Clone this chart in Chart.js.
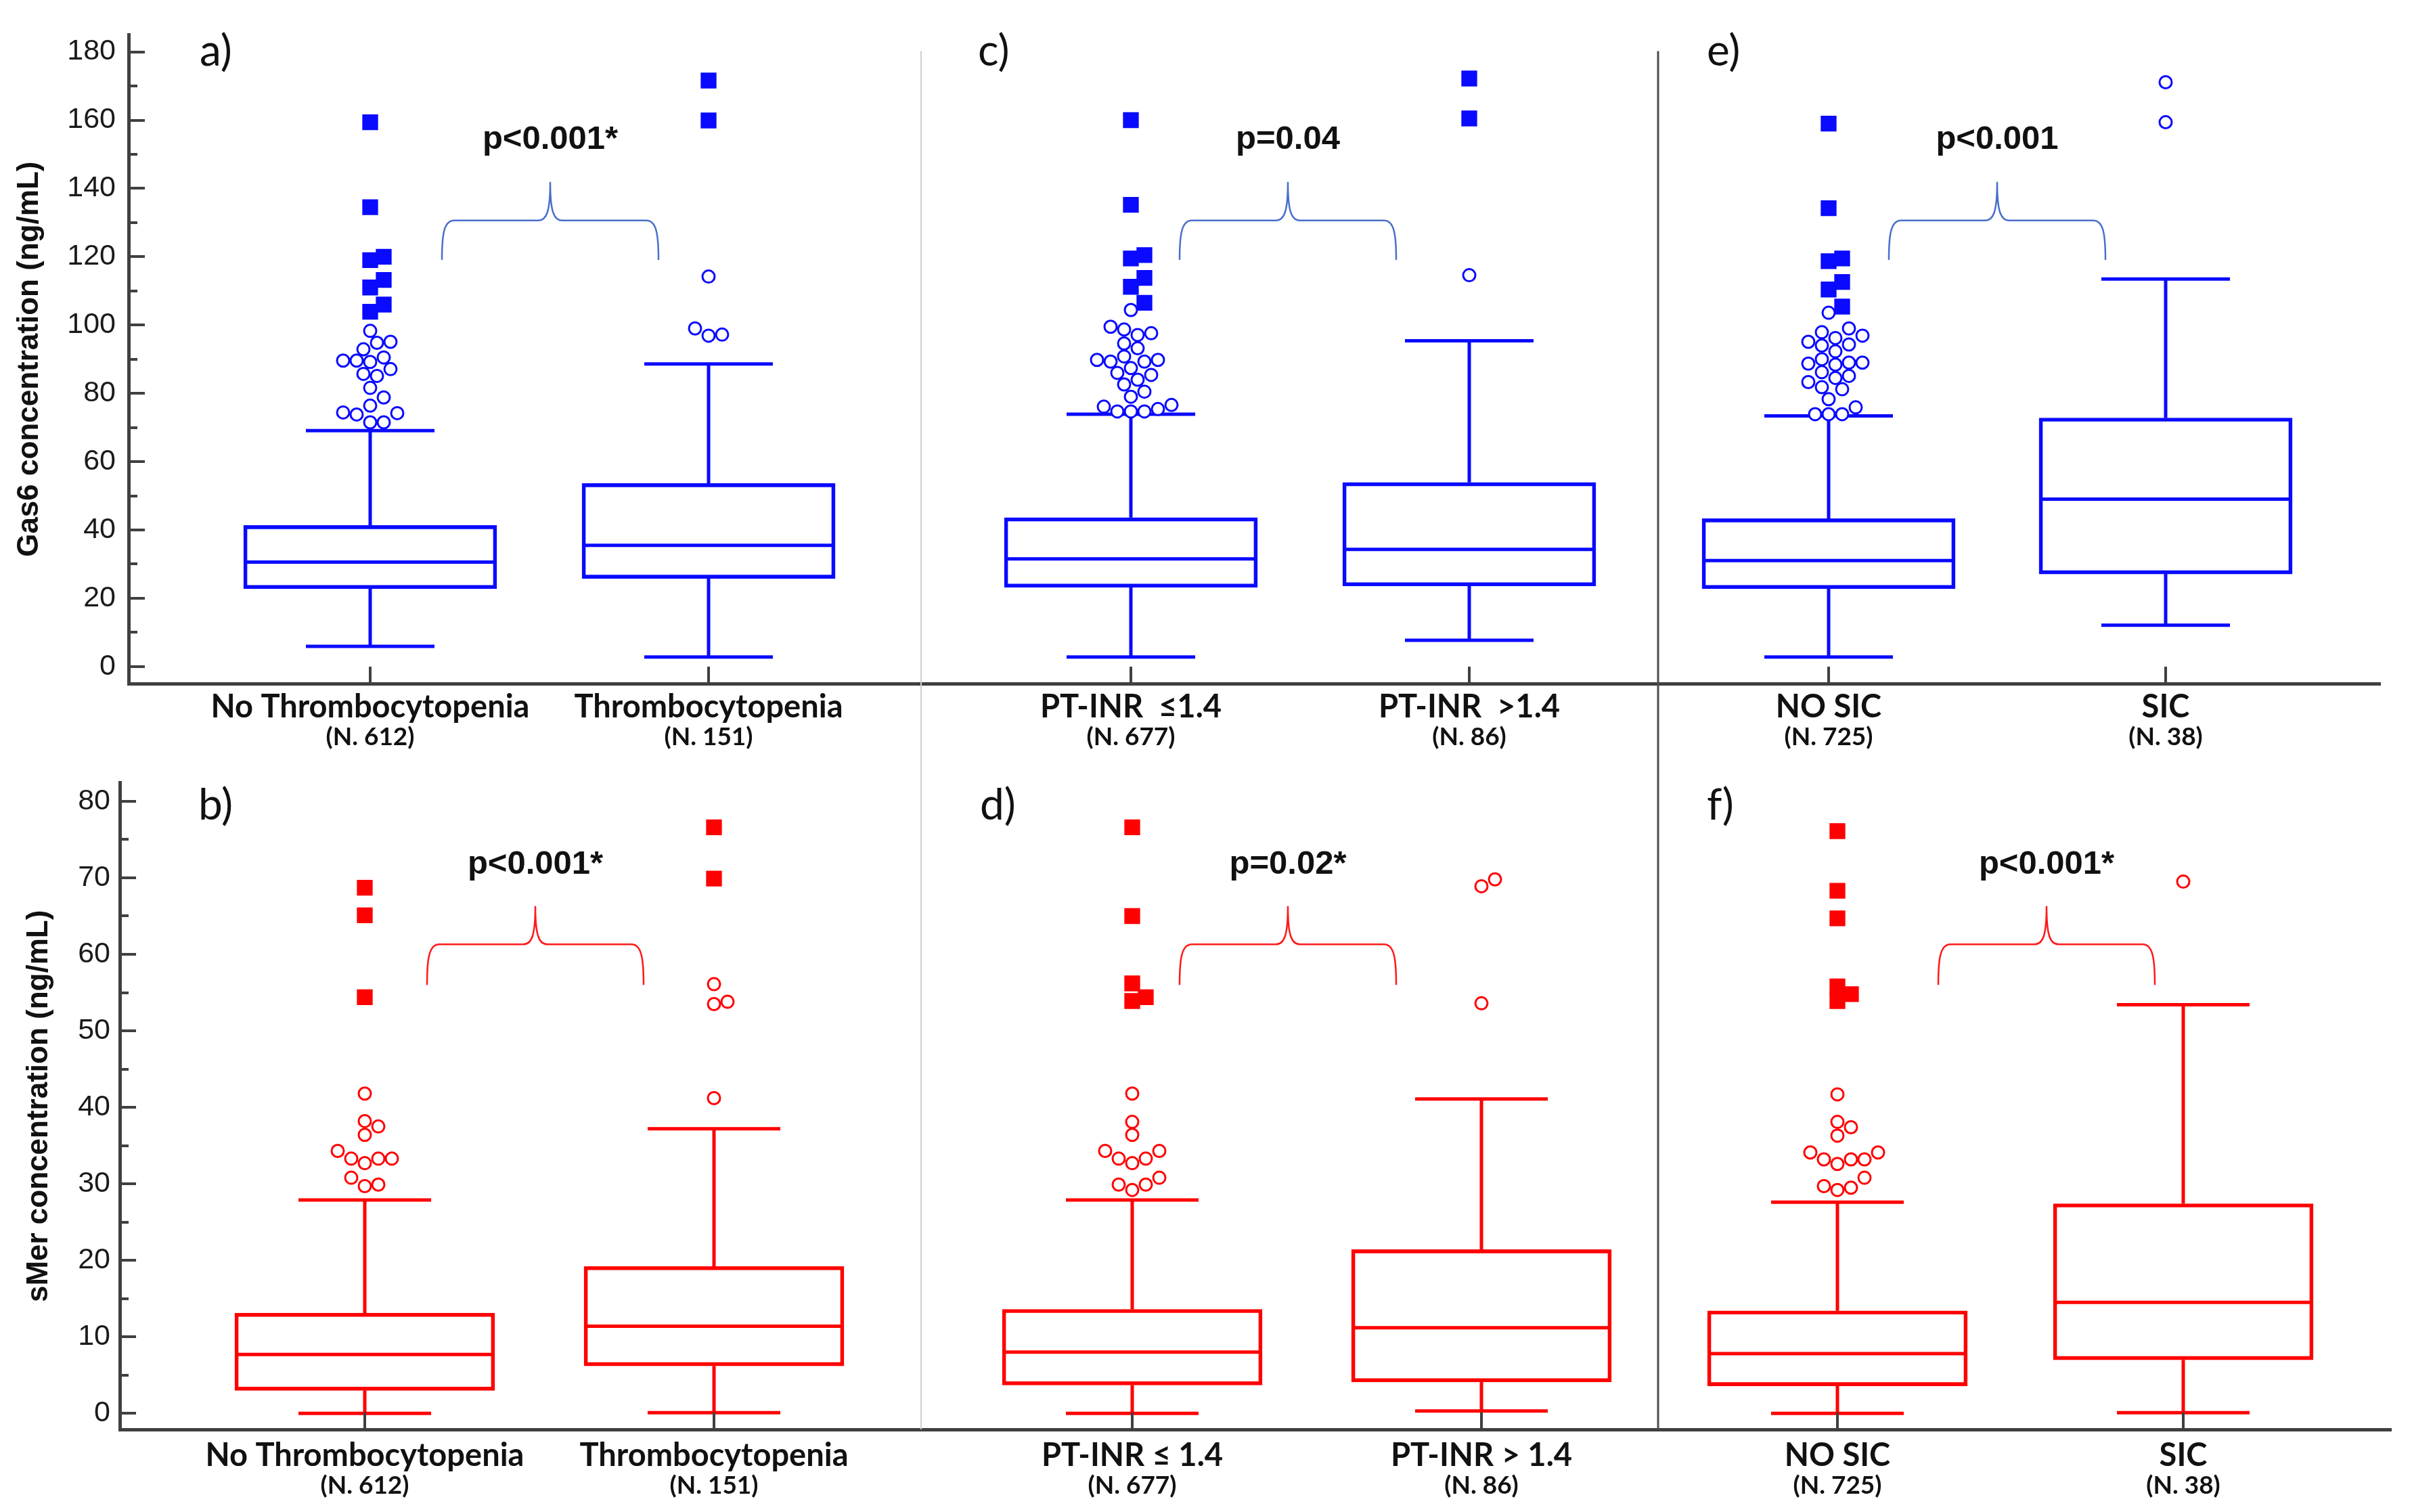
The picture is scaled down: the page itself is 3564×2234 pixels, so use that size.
<!DOCTYPE html>
<html><head><meta charset="utf-8">
<script src="https://cdn.jsdelivr.net/npm/chart.js@4.4.1/dist/chart.umd.min.js"></script>
<style>
html,body{margin:0;padding:0;background:#fff;width:3564px;height:2234px;overflow:hidden}
canvas{position:absolute;left:0}
</style></head>
<body>
<canvas id="topChart" width="3564" height="1117" style="top:0"></canvas>
<canvas id="bottomChart" width="3564" height="1117" style="top:1117px"></canvas>
<script>
// ---------------- DATA ----------------
const topCategories = ['No Thrombocytopenia', 'Thrombocytopenia', 'PT-INR  \u22641.4', 'PT-INR  >1.4', 'NO SIC', 'SIC'];
const bottomCategories = ['No Thrombocytopenia', 'Thrombocytopenia', 'PT-INR \u2264 1.4', 'PT-INR > 1.4', 'NO SIC', 'SIC'];
const groupN = ['(N. 612)', '(N. 151)', '(N. 677)', '(N. 86)', '(N. 725)', '(N. 38)'];

const gas6Title = 'Gas6 concentration (ng/mL)';
const gas6Ticks = [0, 20, 40, 60, 80, 100, 120, 140, 160, 180];
const gas6Low    = [5.9, 2.8, 2.8, 7.7, 2.8, 12.1];
const gas6Q1     = [22.8, 25.8, 23.2, 23.6, 22.8, 27.1];
const gas6Median = [30.6, 35.5, 31.5, 34.3, 31.0, 49.0];
const gas6Q3     = [41.3, 53.6, 43.6, 53.9, 43.3, 72.8];
const gas6High   = [69.1, 88.6, 73.9, 95.4, 73.4, 113.5];
const gas6Far = [
  [159.4, 134.5, 120.0, 119.0, 113.2, 111.0, 106.0, 103.9],
  [171.6, 159.9],
  [160.0, 135.2, 120.5, 119.5, 113.8, 111.2, 106.5],
  [172.2, 160.5],
  [159.0, 134.2, 119.5, 118.7, 112.6, 110.4, 105.4],
  []
];
const gas6Near = [
  [98.3, 95.1, 94.8, 92.9, 90.5, 89.6, 89.6, 89.2, 87.1, 85.7, 85.1, 81.6, 78.8, 76.4, 74.4, 74.2, 73.8, 71.5, 71.5],
  [114.2, 99.0, 97.2, 96.9],
  [104.4, 99.5, 98.7, 97.6, 97.1, 94.6, 93.2, 90.8, 89.8, 89.8, 89.3, 89.3, 87.4, 86.0, 85.4, 84.0, 82.6, 80.5, 79.0, 76.6, 76.1, 75.4, 74.7, 74.7, 74.7],
  [114.6],
  [103.6, 99.0, 97.9, 96.9, 96.2, 95.1, 94.3, 94.0, 92.3, 90.0, 89.0, 89.0, 88.7, 88.4, 86.2, 85.1, 84.5, 83.3, 81.8, 81.2, 78.3, 75.9, 73.9, 73.9, 73.9],
  [171.1, 159.4]
];
const gas6Letters = ['a)', 'c)', 'e)'];
const gas6P = ['p<0.001*', 'p=0.04', 'p<0.001'];

const smerTitle = 'sMer concentration (ng/mL)';
const smerTicks = [0, 10, 20, 30, 40, 50, 60, 70, 80];
const smerLow    = [0.0, 0.1, 0.0, 0.3, 0.0, 0.1];
const smerQ1     = [3.0, 6.2, 3.7, 4.1, 3.6, 7.0];
const smerMedian = [7.7, 11.4, 8.0, 11.2, 7.8, 14.5];
const smerQ3     = [13.1, 19.2, 13.6, 21.4, 13.4, 27.4];
const smerHigh   = [27.9, 37.2, 27.9, 41.1, 27.6, 53.4];
const smerFar = [
  [68.7, 65.1, 54.4],
  [76.6, 69.9],
  [76.6, 65.0, 56.2, 54.4, 53.9],
  [],
  [76.1, 68.3, 64.7, 55.8, 54.8, 53.9],
  []
];
const smerNear = [
  [41.8, 38.2, 37.5, 36.4, 34.3, 33.3, 33.3, 33.3, 32.7, 30.8, 29.9, 29.7],
  [56.1, 53.8, 53.5, 41.2],
  [41.8, 38.1, 36.4, 34.3, 34.3, 33.3, 33.3, 32.7, 30.8, 29.9, 29.9, 29.2],
  [69.8, 68.9, 53.6],
  [41.7, 38.1, 37.4, 36.3, 34.1, 34.1, 33.2, 33.2, 33.2, 32.6, 30.8, 29.7, 29.5, 29.2],
  [69.5]
];
const smerLetters = ['b)', 'd)', 'f)'];
const smerP = ['p<0.001*', 'p=0.02*', 'p<0.001*'];

// ---------------- LAYOUT (positions / sizes / styles) ----------------
const FONT_TICK = "'Liberation Sans', Arial, sans-serif";
const FONT_CAT = "Lato, 'Open Sans', sans-serif";
const FONT_P = "'Liberation Sans', Arial, sans-serif";

const LAYOUT_TOP = {
  height: 1117, padTop: 51.4, padRight: 47, yWidth: 190, xH: 107,
  yMin: -5, yMax: 185, xMax: 33.27, minorStep: 10, majorStep: 20,
  pos: [3.57, 8.57, 14.81, 19.81, 25.12, 30.10], sep: [11.71, 22.60], sepTop: 180.2,
  boxHalf: 1.87, capHalf: 0.95, color: '#0a0aff', braceColor: '#4a6fcb',
  yTitlePad: 17, yTickPad: 19, xPad: 7, nY: 79,
  braceX: [6.23, 17.13, 27.61], braceHalf: 1.6, braceLow: 119.1, braceMid: 130.6, braceTip: 141.9,
  pY: 154.2, letterX: [1.05, 12.55, 23.32], letterY: 180
};
const LAYOUT_BOTTOM = {
  height: 1117, padTop: 35.6, padRight: 31, yWidth: 177, xH: 122,
  yMin: -2.1, yMax: 82.4, xMax: 33.56, minorStep: 5, majorStep: 10,
  pos: [3.62, 8.78, 14.96, 20.12, 25.38, 30.49], sep: [11.84, 22.73], sepTop: null,
  boxHalf: 1.92, capHalf: 0.98, color: '#ff0000', braceColor: '#ff1a1a',
  yTitlePad: 31.6, yTickPad: 14, xPad: 11, nY: 83,
  braceX: [6.14, 17.26, 28.47], braceHalf: 1.6, braceLow: 56.0, braceMid: 61.3, braceTip: 66.3,
  pY: 71.7, letterX: [1.16, 12.71, 23.45], letterY: 79.4
};

function drawBrace(ctx, Lx, Rx, Cx, yT, yB, yP) {
  ctx.beginPath();
  ctx.moveTo(Lx, yB);
  ctx.bezierCurveTo(Lx, yT + (yB - yT) * 0.35, Lx + 3, yT, Lx + 18, yT);
  ctx.lineTo(Cx - 18, yT);
  ctx.bezierCurveTo(Cx - 5, yT, Cx, yT - 14, Cx, yP);
  ctx.bezierCurveTo(Cx, yT - 14, Cx + 5, yT, Cx + 18, yT);
  ctx.lineTo(Rx - 18, yT);
  ctx.bezierCurveTo(Rx - 3, yT, Rx, yT + (yB - yT) * 0.35, Rx, yB);
  ctx.stroke();
}

function makeChart(id, d, L) {
  const xppu = 100;
  const plotH = L.height - L.padTop - L.xH;
  const yppu = plotH / (L.yMax - L.yMin);
  // simple beeswarm for outliers, derived from the values
  const farPts = [], nearPts = [];
  const step = 10, minDist = 19;
  L.pos.forEach((p, i) => {
    const pts = d.far[i].map(v => ({v, t: 'f'})).concat(d.near[i].map(v => ({v, t: 'n'})));
    pts.sort((a, b) => a.v - b.v);
    const placed = [];
    pts.forEach(pt => {
      const py = pt.v * yppu;
      let off = 0;
      for (let s = 0; s < 60; s++) {
        const k = s === 0 ? 0 : (s % 2 ? (s + 1) / 2 : -s / 2);
        const px = k * step;
        if (placed.every(q => (q.x - px) ** 2 + (q.y - py) ** 2 >= minDist * minDist)) { off = px; break; }
      }
      placed.push({x: off, y: py});
      (pt.t === 'f' ? farPts : nearPts).push({x: p + off / xppu, y: pt.v});
    });
  });

  const extras = {
    id: 'extras' + id,
    beforeDatasetsDraw(chart) {
      const ctx = chart.ctx, x = chart.scales.x, y = chart.scales.y;
      ctx.save();
      ctx.strokeStyle = L.color; ctx.lineWidth = 5; ctx.lineCap = 'butt';
      L.pos.forEach((p, i) => {
        const cx = x.getPixelForValue(p);
        const bl = x.getPixelForValue(p - L.boxHalf), br = x.getPixelForValue(p + L.boxHalf);
        const cl = x.getPixelForValue(p - L.capHalf), cr = x.getPixelForValue(p + L.capHalf);
        const yl = y.getPixelForValue(d.low[i]), y1 = y.getPixelForValue(d.q1[i]);
        const ym = y.getPixelForValue(d.median[i]), y3 = y.getPixelForValue(d.q3[i]);
        const yh = y.getPixelForValue(d.high[i]);
        ctx.beginPath();
        ctx.moveTo(bl, ym); ctx.lineTo(br, ym);
        ctx.moveTo(cx, y3); ctx.lineTo(cx, yh);
        ctx.moveTo(cx, y1); ctx.lineTo(cx, yl);
        ctx.moveTo(cl, yh); ctx.lineTo(cr, yh);
        ctx.moveTo(cl, yl); ctx.lineTo(cr, yl);
        ctx.stroke();
      });
      ctx.restore();
    },
    afterDraw(chart) {
      const ctx = chart.ctx, x = chart.scales.x, y = chart.scales.y, area = chart.chartArea;
      ctx.save();
      // separators
      L.sep.forEach((s, j) => {
        const sx = x.getPixelForValue(s);
        ctx.strokeStyle = j === 0 ? '#cfcfcf' : '#4d4d4d';
        ctx.lineWidth = j === 0 ? 2 : 3;
        ctx.beginPath();
        if (L.sepTop !== null) { ctx.moveTo(sx, y.getPixelForValue(L.sepTop)); ctx.lineTo(sx, chart.height); }
        else { ctx.moveTo(sx, 0); ctx.lineTo(sx, area.bottom); }
        ctx.stroke();
      });
      // inward tick marks on y axis
      ctx.strokeStyle = '#404040'; ctx.lineWidth = 4;
      ctx.beginPath();
      for (let v = 0; v <= L.yMax; v += L.minorStep) {
        const py = Math.round(y.getPixelForValue(v));
        const len = (v % L.majorStep === 0) ? 24 : 13;
        ctx.moveTo(area.left, py); ctx.lineTo(area.left + len, py);
      }
      // inward tick marks on x axis
      L.pos.forEach(p => {
        const px = x.getPixelForValue(p);
        ctx.moveTo(px, area.bottom); ctx.lineTo(px, area.bottom - 25);
      });
      ctx.stroke();
      // group sizes under the category labels
      ctx.fillStyle = '#111'; ctx.textAlign = 'center'; ctx.textBaseline = 'middle';
      ctx.font = "bold 37px " + FONT_CAT;
      groupN.forEach((t, i) => ctx.fillText(t, x.getPixelForValue(L.pos[i]), area.bottom + L.nY));
      // braces
      ctx.strokeStyle = L.braceColor; ctx.lineWidth = 2.5;
      L.braceX.forEach(bx => {
        drawBrace(ctx, x.getPixelForValue(bx - L.braceHalf), x.getPixelForValue(bx + L.braceHalf), x.getPixelForValue(bx),
          y.getPixelForValue(L.braceMid), y.getPixelForValue(L.braceLow), y.getPixelForValue(L.braceTip));
      });
      // p values
      ctx.font = "bold 49px " + FONT_P;
      d.p.forEach((t, j) => ctx.fillText(t, x.getPixelForValue(L.braceX[j]), y.getPixelForValue(L.pY)));
      // panel letters
      ctx.textAlign = 'left'; ctx.font = "64px " + FONT_CAT;
      d.letters.forEach((t, j) => ctx.fillText(t, x.getPixelForValue(L.letterX[j]), y.getPixelForValue(L.letterY)));
      ctx.restore();
    }
  };

  return new Chart(document.getElementById(id), {
    type: 'bar',
    data: {
      datasets: [
        {
          type: 'bar', data: L.pos.map((p, i) => ({x: p, y: [d.q1[i], d.q3[i]]})),
          backgroundColor: 'rgba(255,255,255,0)', borderColor: L.color, borderWidth: 5,
          borderSkipped: false, barThickness: L.boxHalf * 2 * xppu, order: 3
        },
        {
          type: 'scatter', data: farPts, pointStyle: 'rect', pointRadius: 16.5,
          backgroundColor: L.color, borderWidth: 0, order: 1
        },
        {
          type: 'scatter', data: nearPts, pointStyle: 'circle', pointRadius: 9,
          backgroundColor: '#ffffff', borderColor: L.color, borderWidth: 3, order: 2
        }
      ]
    },
    options: {
      responsive: false, animation: false, devicePixelRatio: 1,
      layout: {padding: {left: 0, right: L.padRight, top: L.padTop, bottom: 0}},
      plugins: {legend: {display: false}, tooltip: {enabled: false}},
      scales: {
        x: {
          type: 'linear', min: 0, max: L.xMax, position: 'bottom', offset: false,
          grid: {display: false, drawTicks: false, offset: false},
          border: {display: true, color: '#404040', width: 5},
          afterBuildTicks: s => { s.ticks = L.pos.map(v => ({value: v})); },
          afterFit: s => { s.height = L.xH; },
          ticks: {autoSkip: false, maxRotation: 0, minRotation: 0, padding: L.xPad, color: '#111',
            font: {family: FONT_CAT, size: 47, weight: 'bold'}, callback: (v, i) => d.categories[i]}
        },
        y: {
          type: 'linear', min: L.yMin, max: L.yMax,
          grid: {display: false, drawTicks: false},
          border: {display: true, color: '#404040', width: 5},
          afterBuildTicks: s => { s.ticks = d.ticks.map(v => ({value: v})); },
          afterFit: s => { s.width = L.yWidth; },
          ticks: {padding: L.yTickPad, color: '#1a1a1a', font: {family: FONT_TICK, size: 43}},
          title: {display: true, text: d.title, color: '#111', padding: {top: L.yTitlePad, bottom: 0},
            font: {family: FONT_P, size: 44, weight: 'bold'}}
        }
      }
    },
    plugins: [extras]
  });
}

makeChart('topChart', {
  categories: topCategories, title: gas6Title, ticks: gas6Ticks,
  low: gas6Low, q1: gas6Q1, median: gas6Median, q3: gas6Q3, high: gas6High,
  far: gas6Far, near: gas6Near, letters: gas6Letters, p: gas6P
}, LAYOUT_TOP);

makeChart('bottomChart', {
  categories: bottomCategories, title: smerTitle, ticks: smerTicks,
  low: smerLow, q1: smerQ1, median: smerMedian, q3: smerQ3, high: smerHigh,
  far: smerFar, near: smerNear, letters: smerLetters, p: smerP
}, LAYOUT_BOTTOM);
</script>
</body></html>
